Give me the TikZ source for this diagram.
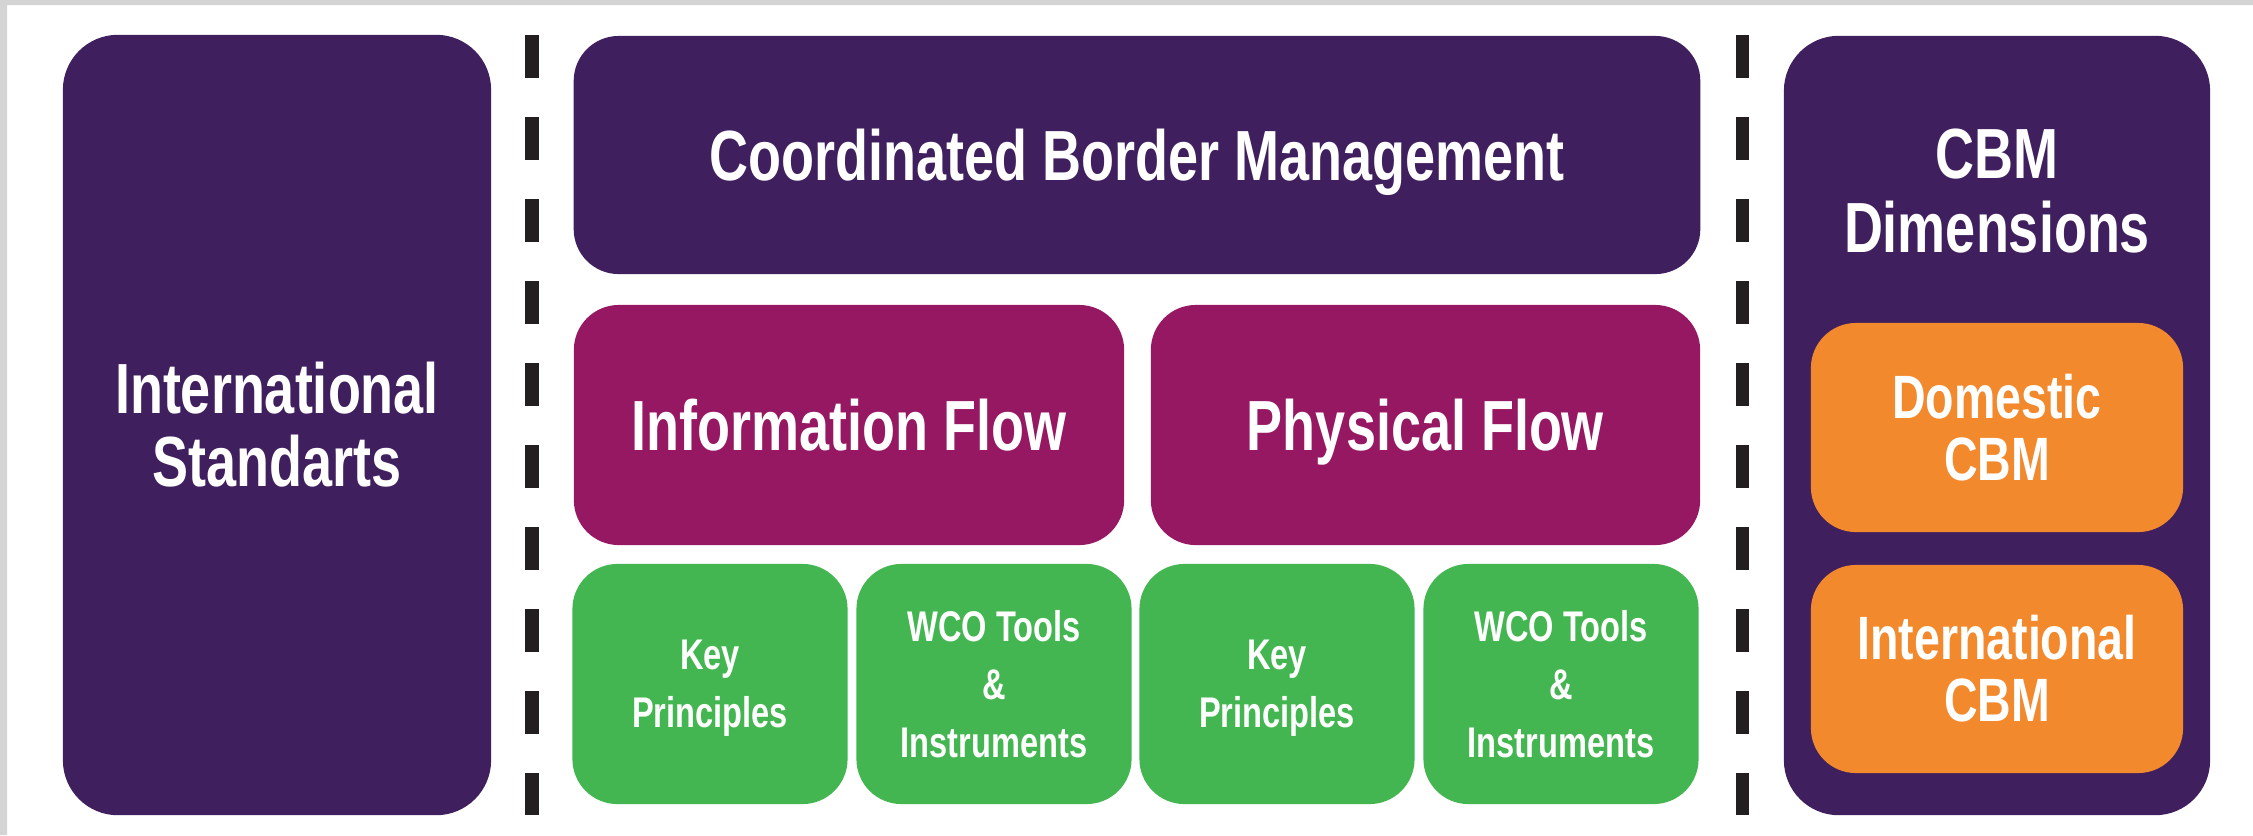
\documentclass[tikz,border=0pt]{standalone}
\usepackage{fontspec}
\newfontfamily\condfont{Liberation Sans}[FakeStretch=0.76]
\definecolor{cbmpurple}{RGB}{63,31,94}
\definecolor{cbmmagenta}{RGB}{150,24,98}
\definecolor{cbmgreen}{RGB}{68,182,81}
\definecolor{cbmorange}{RGB}{243,137,45}
\definecolor{cbmdash}{RGB}{35,31,32}
\definecolor{cbmgrey}{RGB}{212,212,212}
\begin{document}
\begin{tikzpicture}[x=0.01cm,y=-0.01cm,
    every node/.style={text=white,align=center,inner sep=0pt},
    box/.style={fill=#1,rounded corners=0.45cm},
    bigtext/.style={font=\condfont\bfseries\fontsize{20.2}{20.8}\selectfont},
    midtext/.style={font=\condfont\bfseries\fontsize{17.4}{17.6}\selectfont},
    smalltext/.style={font=\condfont\bfseries\fontsize{12.2}{16.5}\selectfont},
    oneline/.style={text height=0.51cm,text depth=0pt},
    sep/.style={line width=0.13cm,cbmdash,dash pattern=on 0.43cm off 0.39cm}]
    \useasboundingbox (0,0) rectangle (2253,835);
    \fill[cbmgrey] (0,0) rectangle (7,835) (0,0) rectangle (2253,5);

    \node[box=cbmpurple,rounded corners=0.55cm,bigtext,minimum width=4.28cm,minimum height=7.8cm] (std) at (277,425) {International\\Standarts};
    \draw[sep] (532,35) -- (532,815);

    \node[box=cbmpurple,bigtext,oneline,minimum width=11.26cm,minimum height=2.38cm] (cbm) at (1137,155) {Coordinated Border Management};
    \node[box=cbmmagenta,bigtext,oneline,minimum width=5.5cm,minimum height=2.4cm] (info) at (849,425) {Information Flow};
    \node[box=cbmmagenta,bigtext,oneline,minimum width=5.49cm,minimum height=2.4cm] (phys) at (1425.5,425) {Physical Flow};
    \foreach \n/\x in {A/710,B/1277} {
        \node[box=cbmgreen,smalltext,text depth=0pt,minimum width=2.75cm,minimum height=2.4cm] (key\n) at (\x,684) {Key\\Principles};
        \node[box=cbmgreen,smalltext,minimum width=2.75cm,minimum height=2.4cm] (wco\n) at (\x+284,684) {WCO Tools\\\&\\Instruments};
    }
    \draw[sep] (1742,35) -- (1742,815);

    \node[box=cbmpurple,rounded corners=0.55cm,minimum width=4.26cm,minimum height=7.79cm] (dimbox) at (1997,425.5) {};
    \node[bigtext] (dims) at (1997,191) {CBM\\Dimensions};
    \node[box=cbmorange,midtext,minimum width=3.72cm,minimum height=2.09cm] (dom) at (1997,427.5) {Domestic\\CBM};
    \node[box=cbmorange,midtext,minimum width=3.72cm,minimum height=2.08cm] (intl) at (1997,669) {International\\CBM};
\end{tikzpicture}
\end{document}
